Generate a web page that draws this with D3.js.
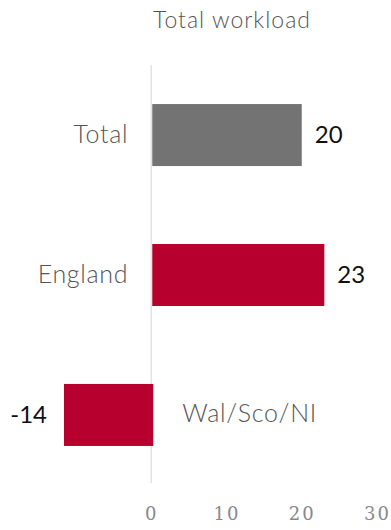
<!DOCTYPE html>
<html>
<head>
<meta charset="utf-8">
<script src="https://cdn.jsdelivr.net/npm/d3@7"></script>
<style>
  body { margin: 0; background: #fff; }
</style>
</head>
<body>
<div id="chart"></div>
<script>
const categories = ["Total", "England", "Wal/Sco/NI"];
const values = [20, 23, -14];
const barColors = ["#737373", "#b8002f", "#b8002f"];
const tickValues = [0, 10, 20, 30];
const title = "Total workload";

const width = 391, height = 530;

const svg = d3.select("#chart")
  .append("svg")
  .attr("width", width)
  .attr("height", height);

// axis starts a bit right of -14, so the negative bar gets clipped at the plot edge
const x = d3.scaleLinear().domain([-11.6, 30.6]).range([64, 381.5]).clamp(true);
const y = d3.scaleBand().domain(categories).range([65, 485])
  .paddingInner(0.557).paddingOuter(0.279);

svg.append("text")
  .attr("x", 232).attr("y", 28)
  .attr("text-anchor", "middle")
  .style("font-family", "Lato, sans-serif")
  .style("font-weight", 300)
  .style("font-size", "23px")
  .style("letter-spacing", "1px")
  .style("fill", "#555")
  .text(title);

svg.append("line")
  .attr("x1", x(0)).attr("x2", x(0))
  .attr("y1", 65).attr("y2", 483)
  .attr("stroke", "#e2e2e2")
  .attr("stroke-width", 1.5);

const rows = categories.map((c, i) => ({cat: c, val: values[i], color: barColors[i]}));

svg.selectAll("rect.bar")
  .data(rows)
  .enter().append("rect")
  .attr("class", "bar")
  .attr("x", d => Math.min(x(0), x(d.val)) + (d.val > 0 ? 1 : 0))
  .attr("y", d => y(d.cat))
  .attr("width", d => Math.abs(x(d.val) - x(0)) + (d.val < 0 ? 2 : -1))
  .attr("height", y.bandwidth())
  .attr("fill", d => d.color);

// category labels on the opposite side of the zero line
svg.selectAll("text.cat")
  .data(rows)
  .enter().append("text")
  .attr("class", "cat")
  .attr("x", d => d.val >= 0 ? x(0) - 23 : x(0) + 31)
  .attr("y", d => y(d.cat) + y.bandwidth() / 2 + 7.5)
  .attr("text-anchor", d => d.val >= 0 ? "end" : "start")
  .style("font-family", "Lato, sans-serif")
  .style("font-weight", 300)
  .style("font-size", "25px")
  .style("letter-spacing", "0.7px")
  .style("fill", "#555")
  .text(d => d.cat);

// value labels at the bar ends
svg.selectAll("text.val")
  .data(rows)
  .enter().append("text")
  .attr("class", "val")
  .attr("x", d => d.val >= 0 ? x(d.val) + 13 : x(d.val) - 17)
  .attr("y", d => y(d.cat) + y.bandwidth() / 2 + 8)
  .attr("text-anchor", d => d.val >= 0 ? "start" : "end")
  .style("font-family", "Lato, sans-serif")
  .style("font-size", "24px")
  .style("fill", "#111")
  .text(d => d.val);

const axis = svg.append("g")
  .attr("transform", "translate(0,520)")
  .call(d3.axisBottom(x).tickValues(tickValues).tickSize(0).tickPadding(0));
axis.select(".domain").remove();
axis.selectAll("text")
  .attr("y", 0).attr("dy", 0)
  .style("font-family", "'DejaVu Serif', serif")
  .style("font-size", "18px")
  .style("letter-spacing", "2px")
  .style("fill", "#888");
</script>
</body>
</html>
